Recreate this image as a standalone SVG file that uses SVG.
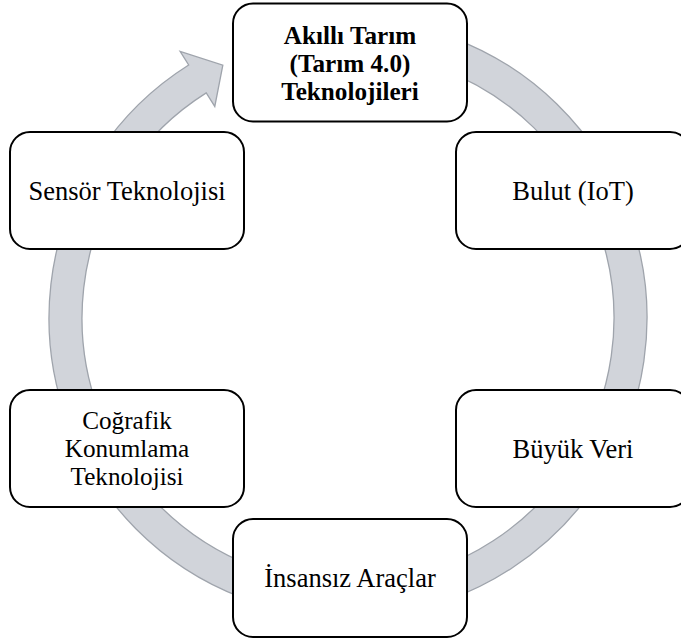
<svg xmlns="http://www.w3.org/2000/svg" width="681" height="639" viewBox="0 0 681 639">
  <style>
    .box { fill: #ffffff; stroke: #000000; stroke-width: 2; }
    .lbl { font-family: "Liberation Serif", "Times New Roman", serif; font-size: 26.5px; fill: #000000; text-anchor: middle; }
    .multi { font-size: 25.2px; }
    .bold { font-weight: bold; }
    .ring { fill: #d1d4da; stroke: #9fa4ac; stroke-width: 1.3; stroke-linejoin: miter; }
  </style>
  <rect x="0" y="0" width="681" height="639" fill="#ffffff"/>
  <g id="connectors">
    <path class="ring" d="M450.26,37.03 A299,299 0 1 1 188.67,64.99 L180.14,51.45 L222.84,65.18 L214.78,106.45 L206.25,92.91 A266,266 0 1 0 438.98,68.04 Z"/>
  </g>
  <g id="node-akilli-tarim">
    <rect class="box" x="233" y="3.5" width="234" height="118" rx="20" ry="20"/>
    <text class="lbl multi bold" x="350" y="44">Akıllı Tarım<tspan x="350" dy="28">(Tarım 4.0)</tspan><tspan x="350" dy="28">Teknolojileri</tspan></text>
  </g>
  <g id="node-bulut">
    <rect class="box" x="456" y="132" width="234" height="117" rx="20" ry="20"/>
    <text class="lbl" x="573" y="200">Bulut (IoT)</text>
  </g>
  <g id="node-buyuk-veri">
    <rect class="box" x="456" y="390" width="234" height="117" rx="20" ry="20"/>
    <text class="lbl" x="573" y="458">Büyük Veri</text>
  </g>
  <g id="node-insansiz">
    <rect class="box" x="233" y="519" width="234" height="118" rx="20" ry="20"/>
    <text class="lbl" x="350" y="587">İnsansız Araçlar</text>
  </g>
  <g id="node-cografik">
    <rect class="box" x="10" y="390" width="234" height="117" rx="20" ry="20"/>
    <text class="lbl multi" x="127" y="429">Coğrafik<tspan x="127" dy="28">Konumlama</tspan><tspan x="127" dy="28">Teknolojisi</tspan></text>
  </g>
  <g id="node-sensor">
    <rect class="box" x="10" y="132" width="234" height="117" rx="20" ry="20"/>
    <text class="lbl" x="127" y="200">Sensör Teknolojisi</text>
  </g>
</svg>
